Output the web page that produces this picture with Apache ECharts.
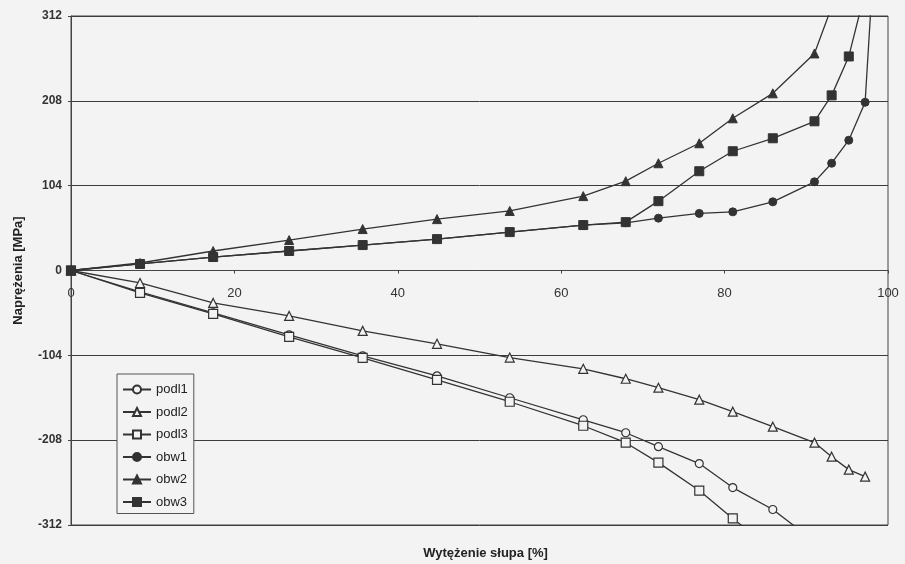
<!DOCTYPE html>
<html>
<head>
<meta charset="utf-8">
<script src="https://cdn.jsdelivr.net/npm/echarts@6/dist/echarts.min.js"></script>
<style>
html,body{margin:0;padding:0;background:#f3f3f3;}
#c{width:905px;height:564px;}
</style>
</head>
<body>
<div id="c"></div>
<script>
// Shared x positions [%]
const xValues = [0, 8.45, 17.4, 26.7, 35.7, 44.8, 53.7, 62.7, 67.9, 71.9, 76.9, 81.0, 85.9, 91.0, 93.1, 95.2, 97.2, 98.5];

// Stress values [MPa]
const podl1 = [0, -26.3, -52.0, -78.9, -104.6, -129.1, -156.0, -183.0, -198.9, -216.0, -236.7, -266.1, -293.0, -332];
const podl2 = [0, -15.3, -39.8, -55.7, -74.0, -89.9, -106.7, -120.5, -132.7, -143.7, -158.4, -173.1, -191.5, -211.0, -228.2, -244.1, -252.7];
const podl3 = [0, -27.5, -53.2, -81.3, -107.0, -134.0, -160.9, -190.3, -211.1, -235.5, -269.8, -304.0, -343];
const obw1  = [0, 8.0, 16.5, 23.9, 31.2, 38.5, 47.1, 55.7, 58.5, 64.2, 70.0, 71.9, 84.2, 108.7, 131.5, 159.7, 206.2, 420];
const obw2  = [0, 9.2, 23.9, 37.3, 50.8, 63.0, 73.0, 91.2, 109.5, 131.5, 156.0, 186.6, 217.2, 266.1, 323];
const obw3  = [0, 8.0, 16.5, 23.9, 31.2, 38.5, 47.1, 55.7, 59.3, 85.0, 121.7, 146.2, 162.1, 182.9, 214.7, 262.4, 342];

const seriesNames = ['podl1', 'podl2', 'podl3', 'obw1', 'obw2', 'obw3'];
const seriesValues = [podl1, podl2, podl3, obw1, obw2, obw3];
const seriesSymbols = ['circle', 'triangle', 'rect', 'circle', 'triangle', 'rect'];
const seriesFilled = [false, false, false, true, true, true];

const yTicks = { min: -312, max: 312, interval: 104 };
const xTicks = { min: 0, max: 100, interval: 20 };

const BG = '#f3f3f3';
const INK = '#333333';
const FONT = '"Liberation Sans", Arial, sans-serif';

const GRID_TOP = 16, GRID_BOTTOM = 39, H = 564;
// x axis drawn through y = 0 (middle of the symmetric y range)
const plotH = H - GRID_TOP - GRID_BOTTOM;
const xAxisOffset = -plotH / 2;

const series = seriesNames.map((name, i) => ({
  name: name,
  type: 'line',
  data: seriesValues[i].map((v, k) => [xValues[k], v]),
  symbol: seriesSymbols[i],
  symbolSize: seriesSymbols[i] === 'circle' ? 8 : 9,
  showAllSymbol: true,
  clip: true,
  lineStyle: { color: INK, width: 1.3 },
  itemStyle: seriesFilled[i]
    ? { color: INK, borderColor: INK, borderWidth: 1 }
    : { color: BG, borderColor: INK, borderWidth: 1.2 },
  emphasis: { disabled: true },
  z: 2 + i
}));

const chart = echarts.init(document.getElementById('c'), null, { renderer: 'canvas' });
chart.setOption({
  animation: false,
  backgroundColor: BG,
  textStyle: { fontFamily: FONT },
  grid: {
    left: 71, right: 17, top: GRID_TOP, bottom: GRID_BOTTOM,
    containLabel: false,
    outerBoundsMode: 'none',
    show: true, borderColor: '#444', borderWidth: 1, backgroundColor: 'transparent'
  },
  legend: {
    data: seriesNames,
    orient: 'vertical',
    left: 117, top: 374,
    itemWidth: 28, itemHeight: 10, itemGap: 9.5,
    padding: [9, 6, 5, 5],
    backgroundColor: BG,
    borderColor: '#555', borderWidth: 1,
    textStyle: { fontFamily: FONT, fontSize: 13, color: '#222' }
  },
  xAxis: {
    type: 'value',
    position: 'bottom',
    offset: xAxisOffset,
    min: xTicks.min, max: xTicks.max, interval: xTicks.interval,
    name: 'Wytężenie słupa [%]',
    nameLocation: 'middle',
    nameGap: 276,
    nameTextStyle: { fontFamily: FONT, fontSize: 13, fontWeight: 'bold', color: '#222', padding: [0, 0, 0, 12] },
    axisLine: { show: true, onZero: false, lineStyle: { color: '#444', width: 1 } },
    axisTick: { show: true, length: 3, lineStyle: { color: '#444' } },
    axisLabel: { margin: 16, fontFamily: FONT, fontSize: 13, color: '#333', showMaxLabel: true, showMinLabel: true },
    splitLine: { show: false }
  },
  yAxis: {
    type: 'value',
    min: yTicks.min, max: yTicks.max, interval: yTicks.interval,
    name: 'Naprężenia [MPa]',
    nameLocation: 'middle',
    nameRotate: 90,
    nameGap: 46,
    nameTextStyle: { fontFamily: FONT, fontSize: 13, fontWeight: 'bold', color: '#222' },
    axisLine: { show: true, onZero: false, lineStyle: { color: '#444', width: 1 } },
    axisTick: { show: true, length: 3, lineStyle: { color: '#444' } },
    axisLabel: { margin: 9, fontFamily: FONT, fontSize: 12, fontWeight: 'bold', color: '#333' },
    splitLine: { show: true, lineStyle: { color: '#3c3c3c', width: 1 } }
  },
  series: series
});
</script>
</body>
</html>
